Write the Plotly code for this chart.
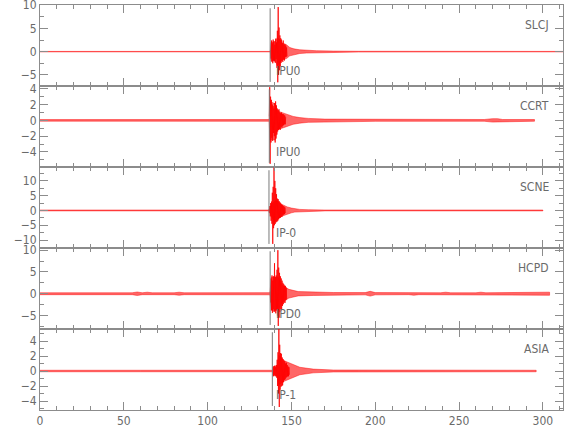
import plotly.graph_objects as go
from plotly.subplots import make_subplots

stations = ["SLCJ", "CCRT", "SCNE", "HCPD", "ASIA"]
pick_labels = ["IPU0", "IPU0", "IP-0", "IPD0", "IP-1"]
pick_times = [137.3, 136.8, 136.6, 137.3, 138.6]
y_ranges = [[-7.4, 10.05], [-5.9, 4.35], [-12.7, 14.7], [-8.1, 10.5], [-5.2, 5.6]]
y_dticks = [5, 2, 5, 5, 2]
x_ticks = [0, 50, 100, 150, 200, 250, 300]

# envelope (noise + coda): times, upper, lower
env_t = {
    "SLCJ": [0, 137.4, 137.8, 140.5, 141.5, 143, 144, 147, 149, 151.5, 155, 159, 165, 175, 190, 312],
    "CCRT": [0, 30, 35, 40, 55, 60, 100, 136.7, 137.2, 138.6, 140.2, 141.5, 147, 151, 155, 160, 170, 200, 265, 270, 273, 276, 295],
    "SCNE": [0, 136.6, 137.5, 139, 140.5, 142, 143, 145, 147.5, 150, 152, 155, 160, 170, 300],
    "HCPD": [0, 55, 58, 61, 64, 67, 80, 83, 86, 137.2, 138, 142, 144.5, 148.5, 154, 163, 175, 194, 197, 200,
             220, 223, 226, 239, 242, 245, 260, 263, 266, 280, 304],
    "ASIA": [0, 30, 60, 138.9, 139.2, 141.6, 142.5, 145.3, 151, 155, 163, 175, 296],
}
env_up = {
    "SLCJ": [0.05, 0.05, 2.0, 2.2, 3.0, 2.6, 2.0, 1.5, 0.9, 0.6, 0.4, 0.3, 0.2, 0.12, 0.08, 0.05],
    "CCRT": [0.1, 0.1, 0.16, 0.1, 0.13, 0.1, 0.11, 0.11, 2.4, 2.3, 2.1, 1.2, 0.8, 0.5, 0.35, 0.25, 0.16, 0.12, 0.11, 0.22, 0.22, 0.11, 0.11],
    "SCNE": [0.15, 0.15, 1.3, 2.6, 3.3, 3.0, 2.4, 1.8, 1.2, 0.8, 0.55, 0.35, 0.25, 0.15, 0.15],
    "HCPD": [0.22, 0.22, 0.4, 0.22, 0.35, 0.22, 0.22, 0.35, 0.22, 0.25, 3.8, 3.8, 1.9, 1.0, 0.5, 0.4, 0.28, 0.26, 0.55, 0.26,
             0.22, 0.35, 0.22, 0.22, 0.35, 0.22, 0.22, 0.35, 0.22, 0.32, 0.36],
    "ASIA": [0.1, 0.13, 0.1, 0.1, 0.6, 0.7, 2.1, 1.4, 0.85, 0.5, 0.25, 0.13, 0.1],
}
env_lo = {
    "SLCJ": [-0.05, -0.05, -1.9, -2.1, -3.0, -2.6, -1.8, -1.5, -0.9, -0.6, -0.4, -0.3, -0.2, -0.12, -0.08, -0.05],
    "CCRT": [-0.1, -0.1, -0.16, -0.1, -0.13, -0.1, -0.11, -0.11, -2.5, -2.4, -2.5, -1.2, -0.8, -0.5, -0.35, -0.25, -0.16, -0.12, -0.11, -0.22, -0.2, -0.11, -0.11],
    "SCNE": [-0.15, -0.15, -1.3, -3.0, -3.5, -3.0, -2.4, -1.8, -1.2, -0.8, -0.55, -0.35, -0.25, -0.15, -0.15],
    "HCPD": [-0.22, -0.22, -0.4, -0.22, -0.35, -0.22, -0.22, -0.35, -0.22, -0.25, -3.8, -3.8, -1.9, -1.0, -0.5, -0.4, -0.28, -0.26, -0.55, -0.26,
             -0.22, -0.35, -0.22, -0.22, -0.35, -0.22, -0.22, -0.35, -0.22, -0.32, -0.36],
    "ASIA": [-0.1, -0.13, -0.1, -0.1, -0.6, -0.7, -1.8, -1.4, -0.85, -0.5, -0.25, -0.13, -0.1],
}

# main-arrival oscillation samples (start time, sample step, values)
osc_start = {"SLCJ": 137.6, "CCRT": 136.8, "SCNE": 136.6, "HCPD": 137.4, "ASIA": 139.0}
osc_step = 0.25
osc_vals = {
    "SLCJ": [0.3, -1.5, 2.4, -2.2, 1.8, -2.5, 2.6, -1.9, 2.2, -2.0,
             1.5, -2.4, 2.8, -1.6, 2.0, -3.5, 4.5, -6.6, 9.6, -5.0,
             5.2, -4.0, 3.5, -3.2, 2.9, -2.4, 2.6, -2.0, 1.8, -2.2,
             2.4, -1.7, 1.5, -1.9, 1.6, -1.2, 1.3, -1.1, 0.9, -1.0],
    "CCRT": [0.5, 4.2, -5.5, 3.0, -2.8, 2.6, -2.2, 2.0, -2.6, 1.8,
             -1.6, 1.5, -2.0, 2.2, -2.8, 2.4, -2.3, 1.9, -1.8, 1.5,
             -1.4, 1.3, -1.2, 1.4, -1.1, 1.0, -1.2, 0.9, -0.8, 1.0,
             -0.9, 0.8, -0.7, 0.8, -0.6, 0.7, -0.5, 0.6, -0.5, 0.4],
    "SCNE": [0.3, -0.8, 1.5, -2.0, 2.5, -3.5, 3.0, -4.5, 6.0, -11.3,
             8.0, -6.0, 14.5, -5.0, 10.0, -4.5, 7.5, -4.0, 5.5, -3.8,
             4.0, -3.5, 3.8, -3.0, 3.2, -2.6, 2.8, -2.5, 2.4, -2.2,
             2.0, -2.1, 1.8, -1.6, 1.5, -1.4, 1.3, -1.2, 1.0, -0.9],
    "HCPD": [0.5, -2.0, 3.5, -3.8, 4.2, -4.4, 3.0, -3.5, 4.0, -4.2,
             7.0, -4.0, 3.8, -4.5, 4.2, -3.8, 5.5, -5.0, 10.0, -7.4,
             6.0, -5.5, 4.8, -4.2, 4.0, -3.6, 3.5, -3.8, 3.0, -2.8,
             2.5, -2.4, 2.2, -2.0, 1.9, -2.1, 1.8, -1.5, 1.4, -1.3],
    "ASIA": [0.5, -0.7, 0.6, -0.5, 0.7, -0.6, 0.5, -0.7, 0.8, -0.9,
             1.5, -2.0, 2.5, -3.0, 5.6, -4.8, 3.5, -2.5, 2.4, -2.1,
             2.3, -2.0, 1.8, -1.9, 1.6, -1.5, 1.4, -1.2, 1.3, -1.1,
             1.0, -0.9, 1.1, -0.8, 0.8, -0.7, 0.6, -0.7, 0.5, -0.5],
}

AX = "#8c8c8c"
TXT = "#6a6a6a"
FONT = "Liberation Sans Narrow, DejaVu Sans Condensed, Liberation Sans, sans-serif"

fig = make_subplots(rows=5, cols=1, shared_xaxes=True, vertical_spacing=0)

for i, st in enumerate(stations):
    r = i + 1
    t = env_t[st]
    fig.add_trace(go.Scatter(
        x=t + t[::-1], y=env_up[st] + env_lo[st][::-1],
        fill="toself", fillcolor="rgba(255,0,0,0.6)", mode="lines",
        line=dict(width=0.6, color="rgba(255,0,0,0.75)"), hoverinfo="skip", showlegend=False), row=r, col=1)
    xs = [osc_start[st] + k * osc_step for k in range(len(osc_vals[st]))]
    fig.add_trace(go.Scatter(
        x=xs, y=osc_vals[st], mode="lines",
        line=dict(width=0.8, color="red"), showlegend=False), row=r, col=1)
    yref = "y domain" if r == 1 else f"y{r} domain"
    xref = "x" if r == 1 else f"x{r}"
    fig.add_shape(type="line", xref=xref, yref=yref, x0=pick_times[i], x1=pick_times[i],
                  y0=0.05, y1=0.96, line=dict(color="#7a7a7a", width=1))
    fig.add_annotation(xref=xref, yref=yref, x=139.8, y=0.19, text=pick_labels[i],
                       showarrow=False, xanchor="left", yanchor="middle",
                       font=dict(family=FONT, size=12, color=TXT))
    fig.add_annotation(xref="paper", yref=yref, x=0.978, y=0.755, text=st,
                       showarrow=False, xanchor="right", yanchor="middle",
                       font=dict(family=FONT, size=12, color=TXT))
    fig.update_yaxes(row=r, col=1, range=y_ranges[i], dtick=y_dticks[i], tick0=0, automargin=False,
                     ticks="inside", ticklen=8, tickcolor=AX, mirror="ticks", ticklabeloverflow="allow",
                     showline=True, linecolor=AX, linewidth=1, showgrid=False, zeroline=False,
                     minor=dict(dtick=y_dticks[i] / 2, ticks="inside", ticklen=4, tickcolor=AX),
                     tickfont=dict(family=FONT, size=12, color=TXT))
    fig.update_xaxes(row=r, col=1, range=[0, 312], tickvals=x_ticks, automargin=False,
                     ticks="inside", ticklen=8, tickcolor=AX, mirror="ticks", ticklabeloverflow="allow",
                     showline=True, linecolor=AX, linewidth=1, showgrid=False, zeroline=False,
                     minor=dict(dtick=10, ticks="inside", ticklen=4, tickcolor=AX),
                     tickfont=dict(family=FONT, size=12, color=TXT),
                     showticklabels=(r == 5))

fig.update_layout(width=580, height=440, margin=dict(l=40, r=17, t=5, b=30, autoexpand=False),
                  paper_bgcolor="white", plot_bgcolor="white", showlegend=False)
fig.write_html("out.html", post_script="document.body.style.margin='0';",
               config={"displayModeBar": False})
